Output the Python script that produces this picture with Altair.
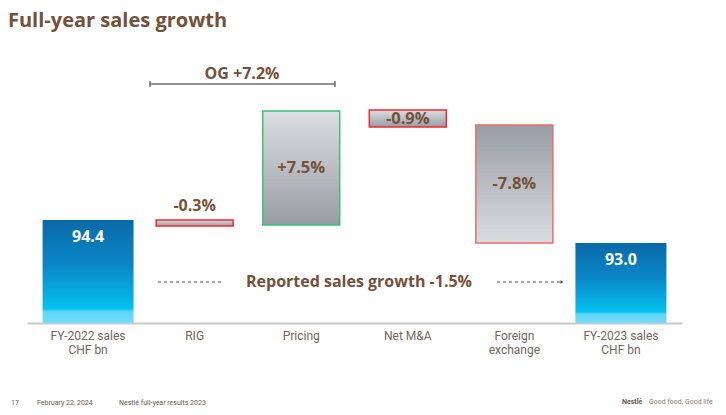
import altair as alt
import pandas as pd

# ---- data (schematic waterfall, display levels) ----
categories = ["FY-2022 sales|CHF bn", "RIG", "Pricing", "Net M&A", "Foreign|exchange", "FY-2023 sales|CHF bn"]
bar_low = [0, 97, 98, 196, 80, 0]
bar_high = [103, 103, 212, 213, 198, 80]
bar_labels = ["94.4", "-0.3%", "+7.5%", "-0.9%", "-7.8%", "93.0"]
title_text = "Full-year sales growth"
og_label = "OG +7.2%"
reported_label = "Reported sales growth -1.5%"
footer_items = ["17", "February 22, 2024", "Nestlé full-year results 2023"]
brand_items = ["Nestlé", "Good food, Good life"]

df = pd.DataFrame({"cat": categories, "low": bar_low, "high": bar_high, "label": bar_labels})
df["mid"] = (df["low"] + df["high"]) / 2

BROWN = "#74513a"
BOLD_FONT = "Open Sans"

def grad(stops):
    return alt.LinearGradient(
        gradient="linear",
        stops=[alt.GradientStop(offset=o, color=c) for o, c in stops],
        x1=0, x2=0, y1=0, y2=1,
    )

blue = grad([(0, "#0a69a7"), (0.45, "#0a88c8"), (0.86, "#04c2ee"), (0.89, "#5fd5f7"), (1, "#74ddfb")])
gray_down = grad([(0, "#dcdee1"), (1, "#989da4")])
gray_up = grad([(0, "#989ea6"), (1, "#d9dcdf")])
gray_thin = grad([(0, "#d6d8db"), (1, "#9da1a7")])

x_enc = alt.X(
    "cat:N",
    sort=categories,
    scale=alt.Scale(paddingInner=0.2, paddingOuter=0.173),
    axis=alt.Axis(
        title=None,
        labelExpr="split(datum.label, '|')",
        labelAngle=0,
        ticks=False,
        domainColor="#c9c9c9",
        domainWidth=2,
        labelColor="#75665c",
        labelFont="Roboto",
        labelFontSize=12,
        labelPadding=7,
        labelLineHeight=14,
        labelBaseline="top",
    ),
)
y_scale = alt.Scale(domain=[0, 275], nice=False)

base = alt.Chart(df).encode(x=x_enc)

def bar_layer(cats, size, color, stroke=None):
    kw = dict(size=size, color=color)
    if stroke:
        kw.update(stroke=stroke, strokeWidth=1.5)
    return base.transform_filter(
        alt.FieldOneOfPredicate(field="cat", oneOf=cats)
    ).mark_bar(**kw).encode(
        y=alt.Y("low:Q", scale=y_scale, axis=None),
        y2="high:Q",
    )

bars = [
    bar_layer([categories[0], categories[5]], 91, blue),
    bar_layer([categories[1]], 77, gray_thin, "#ee2a2f"),
    bar_layer([categories[2]], 77, gray_down, "#3cc07a"),
    bar_layer([categories[3]], 77, gray_down, "#ee2a2f"),
    bar_layer([categories[4]], 77, gray_up, "#f26a6a"),
]

lbl_blue = base.transform_filter(
    alt.FieldOneOfPredicate(field="cat", oneOf=[categories[0], categories[5]])
).mark_text(color="white", font=BOLD_FONT, fontWeight="bold", fontSize=16, dy=17).encode(
    y=alt.Y("high:Q", scale=y_scale), text="label:N"
)
lbl_rig = base.transform_filter(
    alt.FieldEqualPredicate(field="cat", equal=categories[1])
).mark_text(color=BROWN, font=BOLD_FONT, fontWeight="bold", fontSize=16, dy=-14).encode(
    y=alt.Y("high:Q", scale=y_scale), text="label:N"
)
lbl_mid = base.transform_filter(
    alt.FieldOneOfPredicate(field="cat", oneOf=categories[2:5])
).mark_text(color=BROWN, font=BOLD_FONT, fontWeight="bold", fontSize=16.5).encode(
    y=alt.Y("mid:Q", scale=y_scale), text="label:N"
)

one = pd.DataFrame({"k": [0]})

def txt(t, x, y, size, color=BROWN, weight="bold", align="center", font=BOLD_FONT, baseline="middle"):
    return alt.Chart(one).mark_text(
        text=t, fontSize=size, fontWeight=weight, color=color, align=align, font=font, baseline=baseline
    ).encode(x=alt.value(x), y=alt.value(y))

def rule(x1, x2, y1, y2, color="#6e6e6e", width=1.5, dash=None):
    kw = dict(color=color, strokeWidth=width)
    if dash:
        kw["strokeDash"] = dash
    return alt.Chart(one).mark_rule(**kw).encode(
        x=alt.value(x1), x2=alt.value(x2), y=alt.value(y1), y2=alt.value(y2)
    )

annots = [
    txt(og_label, 215, 26, 16),
    rule(123, 308, 36, 36),
    rule(123, 123, 33, 39),
    rule(308, 308, 33, 39),
    txt(reported_label, 332, 234, 16),
    rule(131, 196, 234, 234, color="#5a4a40", width=1, dash=[3, 3]),
    rule(470, 533, 234, 234, color="#5a4a40", width=1, dash=[3, 3]),
    alt.Chart(one).mark_point(shape="triangle-right", filled=True, size=14, color="#5a4a40", opacity=1).encode(
        x=alt.value(535), y=alt.value(234)
    ),
    txt(footer_items[0], -16, 355, 7, color="#6b5b50", weight="normal", align="left", font="Roboto"),
    txt(footer_items[1], 10, 355, 7, color="#6b5b50", weight="normal", align="left", font="Roboto"),
    txt(footer_items[2], 92, 355, 7, color="#6b5b50", weight="normal", align="left", font="Roboto"),
    txt(brand_items[0], 595, 354, 7, color="#6b5b50", weight="bold", align="left", font="Roboto"),
    txt(brand_items[1], 622, 354, 7, color="#8a7a70", weight="normal", align="left", font="Roboto"),
]

chart = alt.layer(*bars, lbl_blue, lbl_rig, lbl_mid, *annots).properties(
    width=655,
    height=275,
    padding={"left": 19, "top": 40, "right": 36, "bottom": 84},
    autosize=alt.AutoSizeParams(type="none"),
    background="white",
    title=alt.TitleParams(
        text=title_text,
        anchor="start",
        frame="group",
        orient="top",
        dx=-19,
        offset=1,
        baseline="alphabetic",
        fontSize=20,
        font=BOLD_FONT,
        fontWeight="bold",
        color=BROWN,
    ),
).configure_view(stroke=None)

chart.save("out.html", embed_options={"renderer": "svg", "actions": False})
